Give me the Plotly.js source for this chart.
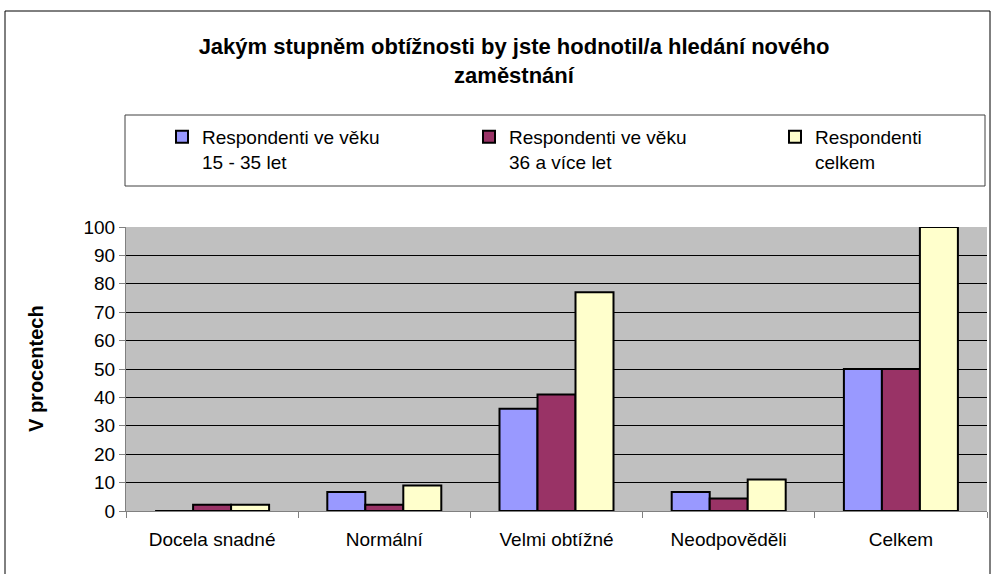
<!DOCTYPE html>
<html>
<head>
<meta charset="utf-8">
<script src="https://cdn.plot.ly/plotly-3.0.1.min.js"></script>
<style>html,body{margin:0;padding:0;background:#fff;}#chart{width:994px;height:574px;}</style>
</head>
<body>
<div id="chart"></div>
<script>
var categories = ["Docela snadné", "Normální", "Velmi obtížné", "Neodpověděli", "Celkem"];
var seriesNames = ["Respondenti ve věku<br>15 - 35 let", "Respondenti ve věku<br>36 a více let", "Respondenti<br>celkem"];
var young = [0, 6.7, 36, 6.7, 50];
var older = [2.2, 2.2, 41, 4.4, 50];
var total = [2.2, 9, 77, 11.1, 100];
var yTicks = [0, 10, 20, 30, 40, 50, 60, 70, 80, 90, 100];
var yTitle = "V procentech";

var colors = ["#9999FF", "#993366", "#FFFFCC"];
var values = [young, older, total];
var legendIds = ["legend", "legend2", "legend3"];

var traces = values.map(function (v, i) {
  return {
    type: "bar",
    x: categories,
    y: v,
    name: seriesNames[i],
    legend: legendIds[i],
    marker: { color: colors[i], line: { color: "#000000", width: 2 } },
    hoverinfo: "x+y"
  };
});

var L = 126, R = 987, T = 227, B = 511;
function px(x) { return (x - L) / (R - L); }
function py(y) { return (B - y) / (B - T); }

function legendAt(xPix) {
  return {
    orientation: "v",
    xref: "paper", x: px(xPix), xanchor: "left",
    yref: "paper", y: py(118), yanchor: "top",
    bgcolor: "rgba(0,0,0,0)", borderwidth: 0,
    font: { size: 19, family: "Liberation Sans, Arial, sans-serif", color: "#000000" },
    itemwidth: 30,
    valign: "top"
  };
}

var layout = {
  width: 994, height: 574,
  autosize: false,
  margin: { l: L, r: 994 - R, t: T, b: 574 - B, pad: 0, autoexpand: false },
  paper_bgcolor: "#ffffff",
  plot_bgcolor: "#c0c0c0",
  font: { family: "Liberation Sans, Arial, sans-serif", color: "#000000", size: 19 },
  barmode: "group",
  bargap: 0.338,
  bargroupgap: 0,
  title: {
    text: "<b>Jakým stupněm obtížnosti by jste hodnotil/a hledání nového<br>zaměstnání</b>",
    font: { size: 22, family: "Liberation Sans, Arial, sans-serif", color: "#000000" },
    xref: "container", x: 514 / 994, xanchor: "center",
    yref: "container", y: 1 - 54 / 574, yanchor: "top"
  },
  xaxis: {
    type: "category",
    showline: true, linecolor: "#808080", linewidth: 1,
    ticks: "outside", tickson: "boundaries", ticklen: 6, tickcolor: "#808080",
    showgrid: false, zeroline: false,
    tickfont: { size: 19 },
    ticklabelstandoff: 11,
    automargin: false,
    fixedrange: true
  },
  yaxis: {
    range: [0, 100],
    tickvals: yTicks,
    ticktext: yTicks.map(String),
    showline: true, linecolor: "#808080", linewidth: 1,
    ticks: "outside", ticklen: 6, tickcolor: "#808080",
    showgrid: true, gridcolor: "#000000", gridwidth: 1,
    zeroline: false,
    tickfont: { size: 19 },
    automargin: false,
    fixedrange: true
  },
  annotations: [
    { text: "<b>" + yTitle + "</b>", xref: "paper", yref: "paper", x: px(36), y: 0.5,
      xanchor: "center", yanchor: "middle", textangle: -90, showarrow: false,
      font: { size: 20, color: "#000000" } }
  ],
  showlegend: true,
  legend: legendAt(162),
  legend2: legendAt(469),
  legend3: legendAt(775),
  shapes: [
    { type: "rect", xref: "paper", yref: "paper", x0: px(5), x1: px(990), y0: py(580), y1: py(11),
      line: { color: "#000000", width: 1 }, fillcolor: "rgba(0,0,0,0)", layer: "above" },
    { type: "rect", xref: "paper", yref: "paper", x0: px(125), x1: px(985), y0: py(186), y1: py(115),
      line: { color: "#404040", width: 1 }, fillcolor: "rgba(0,0,0,0)", layer: "above" }
  ]
};

Plotly.newPlot("chart", traces, layout, { displayModeBar: false, staticPlot: true });
</script>
</body>
</html>
